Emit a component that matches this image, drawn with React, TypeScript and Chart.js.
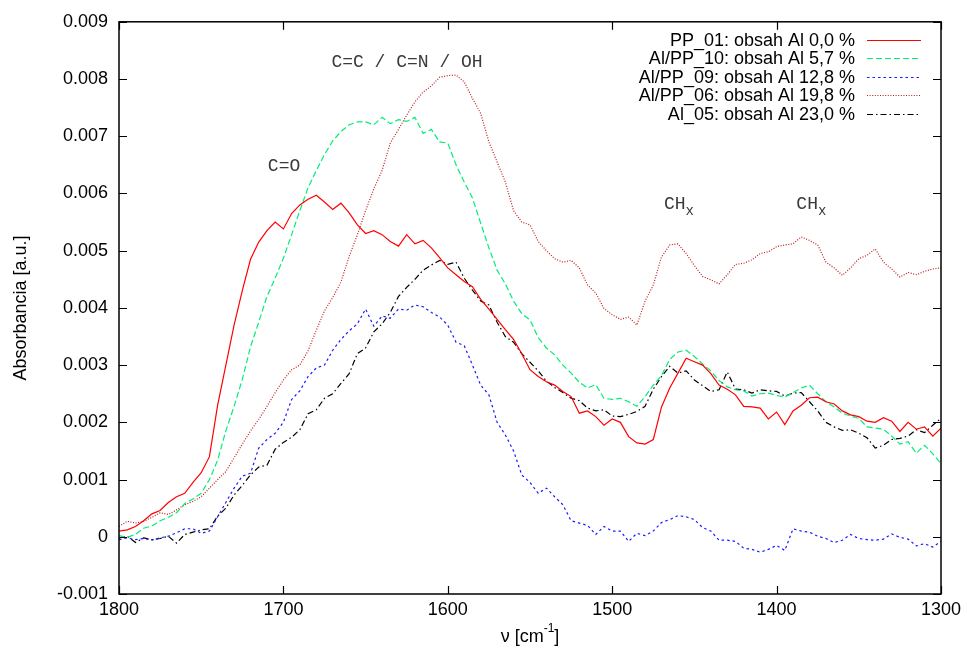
import React, { useEffect, useRef } from 'react';
import { Chart, registerables } from 'chart.js';

Chart.register(...registerables);

// Wavenumber grid (cm^-1), 1800 -> 1300
const wavenumbers = [
  1800, 1795, 1790, 1785, 1780, 1775, 1770, 1765, 1760, 1755,
  1750, 1745, 1740, 1735, 1730, 1725, 1720, 1715, 1710, 1705,
  1700, 1695, 1690, 1685, 1680, 1675, 1670, 1665, 1660, 1655,
  1650, 1645, 1640, 1635, 1630, 1625, 1620, 1615, 1610, 1605,
  1600, 1595, 1590, 1585, 1580, 1575, 1570, 1565, 1560, 1555,
  1550, 1545, 1540, 1535, 1530, 1525, 1520, 1515, 1510, 1505,
  1500, 1495, 1490, 1485, 1480, 1475, 1470, 1465, 1460, 1455,
  1450, 1445, 1440, 1435, 1430, 1425, 1420, 1415, 1410, 1405,
  1400, 1395, 1390, 1385, 1380, 1375, 1370, 1365, 1360, 1355,
  1350, 1345, 1340, 1335, 1330, 1325, 1320, 1315, 1310, 1305,
  1300,
];

const pp01 = [
  0.00010, 0.00012, 0.00018, 0.00028, 0.00040, 0.00046, 0.00060, 0.00070, 0.00076, 0.00095,
  0.00112, 0.00140, 0.00230, 0.00300, 0.00370, 0.00430, 0.00485, 0.00515, 0.00535, 0.00550,
  0.00538, 0.00565, 0.00580, 0.00590, 0.00597, 0.00585, 0.00572, 0.00583, 0.00566, 0.00545,
  0.00530, 0.00535, 0.00528, 0.00516, 0.00508, 0.00528, 0.00512, 0.00518, 0.00505, 0.00488,
  0.00470, 0.00458, 0.00446, 0.00437, 0.00415, 0.00398, 0.00380, 0.00362, 0.00345, 0.00320,
  0.00292, 0.00280, 0.00271, 0.00265, 0.00254, 0.00245, 0.00216, 0.00220, 0.00210, 0.00195,
  0.00206, 0.00200, 0.00175, 0.00164, 0.00162, 0.00170, 0.00227, 0.00260, 0.00286, 0.00312,
  0.00306, 0.00300, 0.00285, 0.00265, 0.00258, 0.00248, 0.00228, 0.00227, 0.00225, 0.00206,
  0.00218, 0.00196, 0.00220, 0.00230, 0.00243, 0.00244, 0.00236, 0.00232, 0.00220, 0.00213,
  0.00210, 0.00202, 0.00200, 0.00208, 0.00202, 0.00184, 0.00200, 0.00188, 0.00192, 0.00176,
  0.00190,
];

const alpp10 = [
  0.00002, -0.00001, 0.00004, 0.00015, 0.00019, 0.00028, 0.00034, 0.00042, 0.00058, 0.00066,
  0.00076, 0.00100, 0.00134, 0.00185, 0.00228, 0.00275, 0.00332, 0.00375, 0.00420, 0.00452,
  0.00487, 0.00528, 0.00570, 0.00610, 0.00640, 0.00668, 0.00692, 0.00708, 0.00720, 0.00725,
  0.00725, 0.00720, 0.00733, 0.00722, 0.00729, 0.00726, 0.00733, 0.00705, 0.00712, 0.00690,
  0.00688, 0.00650, 0.00620, 0.00592, 0.00548, 0.00505, 0.00466, 0.00442, 0.00412, 0.00390,
  0.00379, 0.00348, 0.00330, 0.00318, 0.00300, 0.00286, 0.00270, 0.00260, 0.00266, 0.00242,
  0.00240, 0.00242, 0.00236, 0.00228, 0.00245, 0.00265, 0.00282, 0.00310, 0.00323, 0.00326,
  0.00315, 0.00302, 0.00290, 0.00273, 0.00262, 0.00257, 0.00255, 0.00246, 0.00250, 0.00251,
  0.00247, 0.00244, 0.00252, 0.00260, 0.00265, 0.00250, 0.00236, 0.00227, 0.00216, 0.00211,
  0.00207, 0.00192, 0.00190, 0.00188, 0.00176, 0.00162, 0.00166, 0.00146, 0.00160, 0.00145,
  0.00128,
];

const alpp09 = [
  -0.00005, -0.00002, -0.00005, -0.00003, -0.00006, -0.00002, 0.00001, 0.00007, 0.00014, 0.00014,
  0.00006, 0.00010, 0.00035, 0.00060, 0.00085, 0.00106, 0.00111, 0.00155, 0.00170, 0.00181,
  0.00200, 0.00240, 0.00255, 0.00280, 0.00295, 0.00300, 0.00326, 0.00345, 0.00360, 0.00372,
  0.00398, 0.00368, 0.00386, 0.00382, 0.00398, 0.00396, 0.00405, 0.00402, 0.00392, 0.00384,
  0.00370, 0.00340, 0.00334, 0.00300, 0.00265, 0.00248, 0.00200, 0.00178, 0.00150, 0.00108,
  0.00095, 0.00076, 0.00085, 0.00070, 0.00056, 0.00028, 0.00024, 0.00020, 0.00004, 0.00018,
  0.00010, 0.00010, -0.00008, 0.00006, 0.00002, 0.00010, 0.00025, 0.00030, 0.00037, 0.00035,
  0.00030, 0.00016, 0.00010, -0.00006, -0.00006, -0.00008, -0.00020, -0.00022, -0.00027, -0.00022,
  -0.00015, -0.00024, 0.00014, 0.00010, 0.00008, 0.00001, -0.00003, -0.00010, -0.00006, 0.00004,
  -0.00003, -0.00005, -0.00006, -0.00004, 0.00005, -0.00001, -0.00004, -0.00016, -0.00012, -0.00018,
  -0.00008,
];

const alpp06 = [
  0.00018, 0.00027, 0.00024, 0.00027, 0.00034, 0.00042, 0.00039, 0.00047, 0.00056, 0.00062,
  0.00070, 0.00085, 0.00100, 0.00114, 0.00138, 0.00162, 0.00185, 0.00205, 0.00228, 0.00252,
  0.00274, 0.00292, 0.00300, 0.00325, 0.00361, 0.00395, 0.00418, 0.00445, 0.00490, 0.00528,
  0.00570, 0.00608, 0.00640, 0.00688, 0.00712, 0.00737, 0.00760, 0.00777, 0.00788, 0.00803,
  0.00806, 0.00807, 0.00795, 0.00766, 0.00740, 0.00690, 0.00655, 0.00620, 0.00570, 0.00550,
  0.00545, 0.00516, 0.00500, 0.00486, 0.00480, 0.00483, 0.00470, 0.00440, 0.00426, 0.00399,
  0.00388, 0.00380, 0.00384, 0.00370, 0.00412, 0.00440, 0.00489, 0.00510, 0.00512, 0.00495,
  0.00474, 0.00455, 0.00449, 0.00442, 0.00458, 0.00476, 0.00478, 0.00484, 0.00495, 0.00498,
  0.00507, 0.00510, 0.00512, 0.00524, 0.00518, 0.00510, 0.00480, 0.00470, 0.00457, 0.00470,
  0.00486, 0.00492, 0.00503, 0.00480, 0.00468, 0.00454, 0.00462, 0.00458, 0.00464, 0.00468,
  0.00470,
];

const al05 = [
  -0.00002, 0.00001, -0.00010, -0.00002, -0.00005, -0.00003, 0.00001, -0.00011, 0.00004, 0.00008,
  0.00012, 0.00014, 0.00036, 0.00050, 0.00073, 0.00090, 0.00108, 0.00122, 0.00125, 0.00153,
  0.00165, 0.00174, 0.00187, 0.00215, 0.00222, 0.00242, 0.00250, 0.00268, 0.00285, 0.00320,
  0.00330, 0.00358, 0.00372, 0.00392, 0.00420, 0.00436, 0.00450, 0.00466, 0.00475, 0.00483,
  0.00476, 0.00480, 0.00452, 0.00431, 0.00412, 0.00405, 0.00375, 0.00350, 0.00340, 0.00320,
  0.00305, 0.00290, 0.00272, 0.00261, 0.00252, 0.00242, 0.00238, 0.00225, 0.00220, 0.00222,
  0.00211, 0.00210, 0.00214, 0.00219, 0.00228, 0.00258, 0.00280, 0.00298, 0.00286, 0.00290,
  0.00274, 0.00264, 0.00254, 0.00257, 0.00288, 0.00258, 0.00257, 0.00251, 0.00257, 0.00255,
  0.00254, 0.00246, 0.00251, 0.00252, 0.00236, 0.00220, 0.00200, 0.00192, 0.00186, 0.00187,
  0.00181, 0.00173, 0.00155, 0.00160, 0.00170, 0.00172, 0.00176, 0.00187, 0.00182, 0.00195,
  0.00207,
];

const seriesNames = [
  'PP_01: obsah Al 0,0 %',
  'Al/PP_10: obsah Al 5,7 %',
  'Al/PP_09: obsah Al 12,8 %',
  'Al/PP_06: obsah Al 19,8 %',
  'Al_05: obsah Al 23,0 %',
];
const seriesValues = [pp01, alpp10, alpp09, alpp06, al05];
const seriesColors = ['#ff0000', '#00ee77', '#1a1aff', '#c01818', '#000000'];
const seriesDashes: number[][] = [[], [6, 3], [2.5, 3], [1, 1.6], [6, 3, 1.5, 3]];

const xTickValues = [1800, 1700, 1600, 1500, 1400, 1300];
const yTickValues = [-0.001, 0, 0.001, 0.002, 0.003, 0.004, 0.005, 0.006, 0.007, 0.008, 0.009];

const annotationTexts = ['C=O', 'C=C / C=N / OH', 'CH', 'CH'];
const annotationX = [1699.6, 1624.8, 1468.5, 1388];
const annotationY = [0.00647, 0.0083, 0.00581, 0.00581];

const SANS = '"Liberation Sans", Arial, sans-serif';
const MONO = '"Liberation Mono", "Courier New", monospace';

const fmtY = (v: number) => (Math.abs(v) < 1e-9 ? '0' : v.toFixed(3));

const overlayPlugin = {
  id: 'overlay',
  afterDraw(chart: any) {
    const ctx = chart.ctx as CanvasRenderingContext2D;
    const { left, right, top, bottom } = chart.chartArea;
    const xs = chart.scales.x;
    const ys = chart.scales.y;
    ctx.save();

    // frame
    ctx.strokeStyle = '#000';
    ctx.lineWidth = 1.5;
    ctx.setLineDash([]);
    ctx.strokeRect(left, top, right - left, bottom - top);

    // inward ticks, mirrored
    ctx.lineWidth = 1.2;
    const tl = 8;
    ctx.beginPath();
    yTickValues.forEach((v) => {
      const py = Math.round(ys.getPixelForValue(v)) + 0.5;
      ctx.moveTo(left, py);
      ctx.lineTo(left + tl, py);
      ctx.moveTo(right, py);
      ctx.lineTo(right - tl, py);
    });
    xTickValues.forEach((v) => {
      const px = Math.round(xs.getPixelForValue(v)) + 0.5;
      ctx.moveTo(px, bottom);
      ctx.lineTo(px, bottom - tl);
      ctx.moveTo(px, top);
      ctx.lineTo(px, top + tl);
    });
    ctx.stroke();

    // legend
    ctx.font = `18px ${SANS}`;
    ctx.fillStyle = '#000';
    ctx.textAlign = 'right';
    ctx.textBaseline = 'middle';
    seriesNames.forEach((name, i) => {
      const y = 40 + i * 18.4;
      ctx.fillText(name, 855, y + 1);
      ctx.strokeStyle = seriesColors[i];
      ctx.lineWidth = 1.2;
      ctx.setLineDash(seriesDashes[i]);
      ctx.beginPath();
      ctx.moveTo(867, Math.round(y) + 0.5);
      ctx.lineTo(921, Math.round(y) + 0.5);
      ctx.stroke();
    });
    ctx.setLineDash([]);

    // annotations
    ctx.fillStyle = '#3a3a3a';
    ctx.textBaseline = 'middle';
    annotationTexts.forEach((t, i) => {
      const px = xs.getPixelForValue(annotationX[i]);
      const py = ys.getPixelForValue(annotationY[i]);
      if (t === 'CH') {
        ctx.font = `18px ${MONO}`;
        ctx.textAlign = 'left';
        ctx.fillText(t, px, py);
        const w = ctx.measureText(t).width;
        ctx.font = `14px ${MONO}`;
        ctx.fillText('x', px + w, py + 7);
      } else {
        ctx.font = `18px ${MONO}`;
        ctx.textAlign = 'center';
        ctx.fillText(t, px, py);
      }
    });

    // y axis title
    ctx.fillStyle = '#000';
    ctx.font = `18px ${SANS}`;
    ctx.save();
    ctx.translate(21, 308);
    ctx.rotate(-Math.PI / 2);
    ctx.textAlign = 'center';
    ctx.textBaseline = 'middle';
    ctx.fillText('Absorbancia [a.u.]', 0, 0);
    ctx.restore();

    // x axis title: ν [cm^-1]
    const main1 = '\u03bd [cm';
    const sup = '-1';
    const main2 = ']';
    ctx.font = `18px ${SANS}`;
    const w1 = ctx.measureText(main1).width;
    const w3 = ctx.measureText(main2).width;
    ctx.font = `12px ${SANS}`;
    const w2 = ctx.measureText(sup).width;
    const total = w1 + w2 + w3;
    const cx = (left + right) / 2;
    const x0 = cx - total / 2;
    const yb = 637;
    ctx.textAlign = 'left';
    ctx.textBaseline = 'middle';
    ctx.font = `18px ${SANS}`;
    ctx.fillText(main1, x0, yb);
    ctx.font = `12px ${SANS}`;
    ctx.fillText(sup, x0 + w1, yb - 8);
    ctx.font = `18px ${SANS}`;
    ctx.fillText(main2, x0 + w1 + w2, yb);

    ctx.restore();
  },
};

export default function App() {
  const ref = useRef<HTMLCanvasElement>(null);
  useEffect(() => {
    const canvas = ref.current;
    if (!canvas) return;
    const datasets = seriesNames.map((name, i) => ({
      label: name,
      data: wavenumbers.map((x, j) => ({ x, y: seriesValues[i][j] })),
      borderColor: seriesColors[i],
      borderWidth: 1.2,
      borderDash: seriesDashes[i],
      pointRadius: 0,
      fill: false,
      tension: 0,
    }));
    const chart = new Chart(canvas, {
      type: 'line',
      data: { datasets },
      options: {
        animation: false,
        responsive: false,
        maintainAspectRatio: false,
        devicePixelRatio: 1,
        events: [],
        layout: { padding: { left: 0, right: 26, top: 21, bottom: 0 } },
        plugins: { legend: { display: false }, tooltip: { enabled: false } },
        scales: {
          x: {
            type: 'linear',
            reverse: true,
            min: 1300,
            max: 1800,
            afterFit: (s: any) => {
              s.height = 59;
            },
            grid: { display: false, drawTicks: false },
            border: { display: false },
            ticks: {
              stepSize: 100,
              padding: 5,
              color: '#000',
              maxRotation: 0,
              autoSkip: false,
              font: { family: SANS, size: 18 },
              callback: (v: any) => String(v),
            },
          },
          y: {
            type: 'linear',
            min: -0.001,
            max: 0.009,
            afterFit: (s: any) => {
              s.width = 119;
            },
            grid: { display: false, drawTicks: false },
            border: { display: false },
            ticks: {
              stepSize: 0.001,
              padding: 11,
              color: '#000',
              autoSkip: false,
              font: { family: SANS, size: 18 },
              callback: (v: any) => fmtY(Number(v)),
            },
          },
        },
      } as any,
      plugins: [overlayPlugin],
    });
    return () => chart.destroy();
  }, []);
  return (
    <div style={{ position: 'absolute', left: 0, top: 0, width: 967, height: 653, background: '#fff' }}>
      <canvas ref={ref} width={967} height={653} style={{ display: 'block', width: 967, height: 653 }} />
    </div>
  );
}
